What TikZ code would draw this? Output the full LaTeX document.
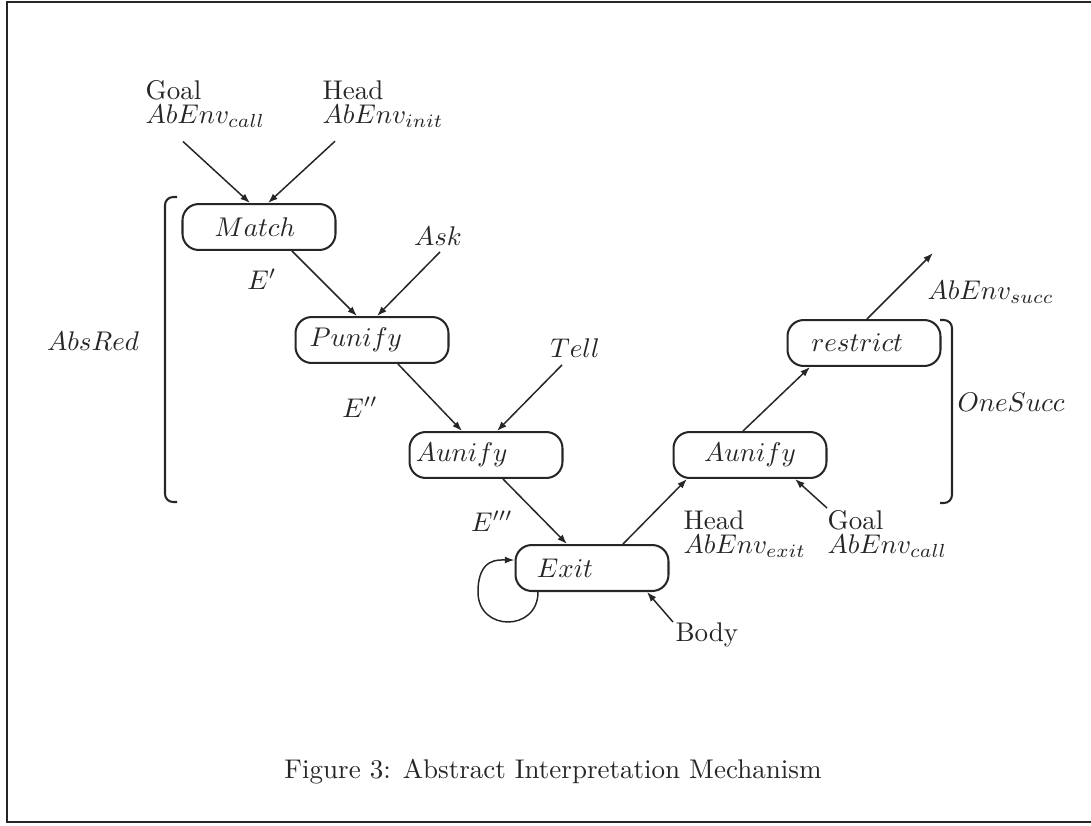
\documentclass[tikz,border=0pt]{standalone}
\usepackage{tikz}
\usetikzlibrary{arrows.meta}

\begin{document}
\begin{tikzpicture}[
  x=0.37pt, y=-0.37pt,
  color=black!85,
  >={Latex[length=3.6pt, width=2.6pt]},
  % --- node styles ---
  op/.style={
    draw, rounded corners=6pt, line width=0.75pt,
    minimum width=56.6pt, minimum height=17pt, inner sep=0pt
  },
  lbl/.style={inner sep=0pt, align=left},
  arr/.style={->, line width=0.55pt},
  brk/.style={line width=0.75pt, rounded corners=3pt},
]
\useasboundingbox (0,0) rectangle (1091,825);

% ══════════════════════════════════════════════
% FRAME
% ══════════════════════════════════════════════

\draw[line width=0.9pt] (1091,2) -- (7,2) -- (7,822) -- (1091,822);

% ══════════════════════════════════════════════
% OPERATIONS
% ══════════════════════════════════════════════

% trailing space pushes the name a little to the left, as in the original
\node[op] (match)    at (259,227) {$Match$\hspace*{3pt}};
\node[op] (punify)   at (372,340) {$Punify$\hspace*{12pt}};
\node[op] (aunifyA)  at (486,455) {$Aunify$\hspace*{18pt}};
\node[op] (exit)     at (592,568) {$Exit$\hspace*{20pt}};
\node[op] (aunifyB)  at (750,455) {$Aunify$};
\node[op] (restrict) at (864,343) {$restrict$\hspace*{5pt}};

% ══════════════════════════════════════════════
% INPUT / OUTPUT LABELS
% ══════════════════════════════════════════════

\node[lbl, anchor=north west] (goalA) at (145,80) {Goal\\[-3pt] $AbEnv_{call}$};
\node[lbl, anchor=north west] (headA) at (322,80) {Head\\[-3pt] $AbEnv_{init}$};
\node[lbl] (ask)  at (438,236) {$Ask$};
\node[lbl] (tell) at (575,348) {$Tell$};

\node[lbl] (eone)   at (262,279) {$E'$};
\node[lbl] (etwo)   at (360,407) {$E''$};
\node[lbl] (ethree) at (492,521) {$E'''$};

\node[lbl, anchor=north west] (headB) at (683,510) {Head\\[-3pt] $AbEnv_{exit}$};
\node[lbl, anchor=north west] (goalB) at (827,510) {Goal\\[-3pt] $AbEnv_{call}$};
\node[lbl, anchor=north west] (body)  at (675,622) {Body};

\node[lbl, anchor=west] (succ) at (927,292) {$AbEnv_{succ}$};
\coordinate (succout) at (933,253);

% ══════════════════════════════════════════════
% FLOW ARROWS
% ══════════════════════════════════════════════

\draw[arr] ([shift={(38,13)}]goalA.south west) -- ([shift={(-9,0)}]match.north);
\draw[arr] ([shift={(13,13)}]headA.south west) -- ([shift={(9,0)}]match.north);
\draw[arr] ([shift={(33,0)}]match.south) -- ([shift={(-15,0)}]punify.north);
\draw[arr] ([shift={(2,6)}]ask.south) -- ([shift={(5,0)}]punify.north);
\draw[arr] ([shift={(26,0)}]punify.south) -- ([shift={(-24,0)}]aunifyA.north);
\draw[arr] ([shift={(-13,7)}]tell.south) -- ([shift={(11,0)}]aunifyA.north);
\draw[arr] ([shift={(17,0)}]aunifyA.south) -- ([shift={(-25,0)}]exit.north);
\draw[arr] ([shift={(31,0)}]exit.north) -- ([shift={(-63,0)}]aunifyB.south);
\draw[arr] ([shift={(0,-2)}]goalB.north west) -- ([shift={(45,0)}]aunifyB.south);
\draw[arr] ([shift={(-7,0)}]aunifyB.north) -- ([shift={(-54,0)}]restrict.south);
\draw[arr] ([shift={(3,0)}]restrict.north) -- (succout);
\draw[arr] ([shift={(-2,0)}]body.north west) -- ([shift={(55,0)}]exit.south);

% Exit loops back on itself
\draw[arr] ([shift={(-54,0)}]exit.south)
  .. controls +(0,40) and +(0,40) .. ++(-60,0)
  .. controls +(0,-35) and +(-15,0) .. ([shift={(0,-8)}]exit.west);

% ══════════════════════════════════════════════
% BRACKETS
% ══════════════════════════════════════════════

\draw[brk] (177,197) -- (165,197) -- (165,502) -- (177,502);
\node[lbl] (absred) at (93,341) {$AbsRed$};

\draw[brk] (940,320) -- (952,320) -- (952,503) -- (940,503);
\node[lbl, anchor=west] (onesucc) at (957,402) {$OneSucc$};

% ══════════════════════════════════════════════
% CAPTION
% ══════════════════════════════════════════════

\node (caption) at (553,772) {Figure 3: Abstract Interpretation Mechanism};

\end{tikzpicture}
\end{document}
